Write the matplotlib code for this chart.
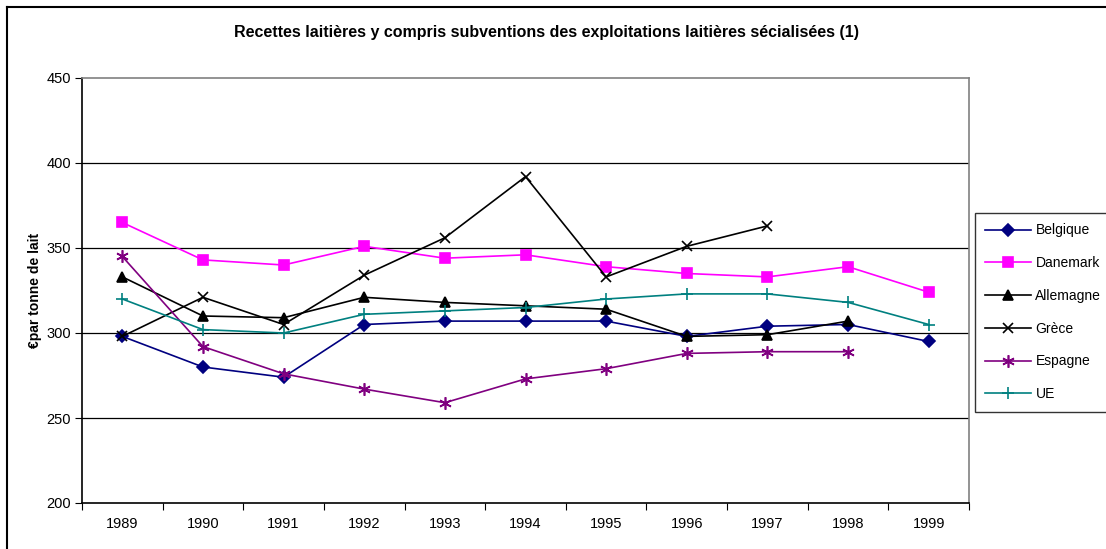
import matplotlib
matplotlib.use("Agg")
import matplotlib.pyplot as plt
from matplotlib.lines import Line2D

plt.rcParams['font.family'] = ['Liberation Sans', 'DejaVu Sans']

annees = ['1989', '1990', '1991', '1992', '1993', '1994', '1995', '1996', '1997', '1998', '1999']

belgique = [298, 280, 274, 305, 307, 307, 307, 298, 304, 305, 295]
danemark = [365, 343, 340, 351, 344, 346, 339, 335, 333, 339, 324]
allemagne = [333, 310, 309, 321, 318, 316, 314, 298, 299, 307, None]
grece = [298, 321, 305, 334, 356, 392, 333, 351, 363, None, None]
espagne = [345, 292, 276, 267, 259, 273, 279, 288, 289, 289, None]
ue = [320, 302, 300, 311, 313, 315, 320, 323, 323, 318, 305]

series = [
    ('Belgique', belgique, '#000080', 'D', 6, '#000080'),
    ('Danemark', danemark, '#FF00FF', 's', 7.5, '#FF00FF'),
    ('Allemagne', allemagne, '#000000', '^', 7.5, '#000000'),
    ('Grèce', grece, '#000000', 'x', 7.5, '#000000'),
    ('Espagne', espagne, '#800080', (6, 2, 0), 9, '#800080'),
    ('UE', ue, '#008080', '+', 8, '#008080'),
]

fig = plt.figure(figsize=(11.06, 5.49), dpi=100)
ax = fig.add_axes([82 / 1106, 1 - 503 / 549, (969 - 82) / 1106, (503 - 78) / 549])

x = list(range(len(annees)))
for nom, vals, col, mk, ms, mec in series:
    xs = [i for i, v in zip(x, vals) if v is not None]
    ys = [v for v in vals if v is not None]
    ax.plot(xs, ys, color=col, lw=1.2, marker=mk, markersize=ms,
            markerfacecolor=col, markeredgecolor=mec, markeredgewidth=1.2,
            label=nom, zorder=3)

ax.set_xlim(-0.5, len(annees) - 0.5)
ax.set_ylim(200, 450)
ax.set_yticks([200, 250, 300, 350, 400, 450])
ax.set_xticks([i - 0.5 for i in range(len(annees) + 1)])
ax.set_xticklabels([])
ax.set_xticks(x, minor=True)
ax.set_xticklabels(annees, minor=True)
ax.tick_params(axis='x', which='major', length=5, color='black', direction='out')
ax.tick_params(axis='x', which='minor', length=0, pad=10, labelsize=10.5)
ax.tick_params(axis='y', length=5, direction='out', labelsize=10.5, pad=3)

for yv in [250, 300, 350, 400]:
    ax.axhline(yv, color='black', lw=0.9, zorder=1)

ax.spines['top'].set_color('#808080')
ax.spines['right'].set_color('#808080')
ax.spines['left'].set_color('black')
ax.spines['bottom'].set_color('black')
for s in ax.spines.values():
    s.set_linewidth(1.2)

ax.set_ylabel('€par tonne de lait', fontsize=10, fontweight='bold')
ax.yaxis.set_label_coords((42 - 82) / 887, 0.5)
fig.text(547 / 1106, 1 - 33 / 549, 'Recettes laitières y compris subventions des exploitations laitières sécialisées (1)',
         ha='center', va='center', fontsize=11.5, fontweight='bold')

leg = fig.legend(loc='upper left', bbox_to_anchor=(975 / 1106, 1 - 213 / 549),
                 frameon=True, fancybox=False, edgecolor='black', fontsize=10,
                 handlelength=3.3, labelspacing=1.35, borderpad=0.75, handletextpad=0.3,
                 borderaxespad=0)
leg.get_frame().set_linewidth(1.0)

# cadre extérieur du graphique
fig.add_artist(Line2D([7 / 1106, 7 / 1106], [0, 1 - 7 / 549], color='black', lw=1.5, transform=fig.transFigure))
fig.add_artist(Line2D([7 / 1106, 1], [1 - 7 / 549, 1 - 7 / 549], color='black', lw=1.5, transform=fig.transFigure))

fig.savefig('out.png', dpi=100)
